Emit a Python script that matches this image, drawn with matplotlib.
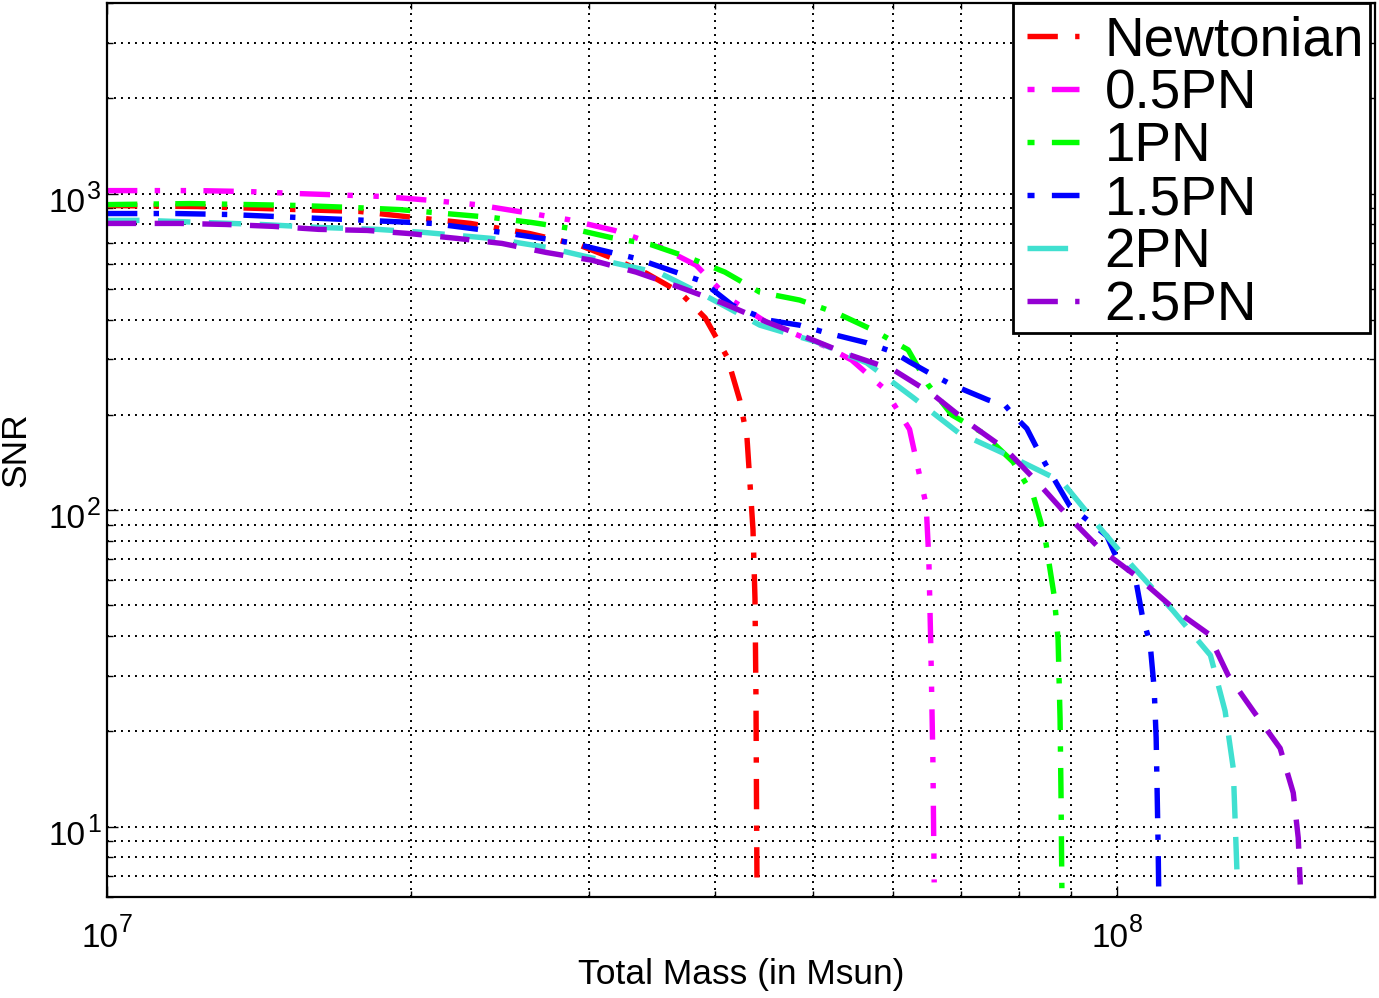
import numpy as np
import matplotlib
matplotlib.use('Agg')
import matplotlib.pyplot as plt
import matplotlib.transforms as mtransforms
from matplotlib.lines import Line2D
from matplotlib.patches import Rectangle
from matplotlib.ticker import LogLocator, NullFormatter

plt.rcParams['font.family'] = ['Liberation Sans', 'DejaVu Sans']

# Total mass in units of 1e7 Msun, SNR
m_newt = [1.00, 1.23, 1.78, 1.97, 2.29, 2.62, 2.94, 3.17, 3.42, 3.69, 3.91, 4.11, 4.23, 4.30,
          4.33, 4.36, 4.38, 4.39, 4.395, 4.40]
s_newt = [917, 910, 878, 847, 805, 748, 686, 624, 560, 488, 405, 305, 223, 171,
          122, 87, 52.5, 25.4, 12.3, 6.67]

m_05 = [1.00, 1.23, 1.38, 1.55, 1.88, 2.10, 2.32, 2.59, 2.86, 3.18, 3.49, 3.83, 4.12, 4.51,
        5.16, 5.46, 5.88, 6.23, 6.36, 6.47, 6.51, 6.54, 6.57, 6.59]
s_05 = [1022, 1022, 1015, 1000, 979, 951, 923, 872, 828, 765, 691, 594, 468, 390,
        328, 298, 242, 180, 133, 104, 70.1, 36.5, 16.5, 6.67]

m_1 = [1.00, 1.21, 1.39, 1.55, 1.75, 1.95, 2.10, 2.40, 2.63, 2.88, 3.15, 3.45, 3.76, 4.09,
       4.43, 4.85, 5.28, 5.73, 6.21, 6.50, 6.86, 7.35, 7.89, 8.26, 8.48, 8.66, 8.74, 8.78,
       8.80, 8.82]
s_1 = [923, 930, 923, 917, 904, 890, 872, 841, 811, 776, 727, 691, 629, 565,
       488, 461, 419, 371, 321, 249, 200, 176, 142, 111, 82.8, 54.0, 39.3, 22.0,
       12.3, 5.5]

m_15 = [1.00, 1.17, 1.32, 1.54, 1.81, 2.10, 2.46, 2.87, 3.34, 3.88, 4.16, 4.50, 4.85, 5.16,
        5.65, 6.00, 6.23, 6.48, 6.86, 7.45, 7.75, 7.89, 8.14, 8.39, 8.58, 8.98, 9.40, 9.77,
        10.0, 10.42, 10.59, 10.78, 10.88, 10.93, 10.98, 11.00]
s_15 = [865, 865, 859, 841, 823, 805, 754, 701, 624, 529, 444, 399, 384, 363,
        338, 316, 294, 274, 249, 223, 214, 200, 181, 150, 132, 103, 91.7, 82.8,
        70.1, 61.6, 46.4, 37.9, 27.4, 19.1, 8.6, 5.5]

m_2 = [1.00, 1.09, 1.24, 1.42, 1.62, 1.85, 2.06, 2.40, 2.72, 3.09, 3.53, 3.95, 4.43, 5.04,
       5.65, 6.28, 6.96, 7.87, 8.82, 9.58, 10.35, 11.36, 12.37, 12.79, 13.03, 13.15]
s_2 = [823, 823, 811, 799, 782, 771, 754, 722, 677, 616, 560, 468, 384, 340,
       292, 227, 176, 147, 123, 89.1, 66.7, 48.1, 34.8, 23.2, 15.3, 6.77]

m_25 = [1.00, 1.18, 1.31, 1.46, 1.62, 1.81, 1.99, 2.22, 2.46, 2.72, 3.02, 3.34, 3.69, 4.07,
        4.50, 4.94, 5.44, 6.00, 6.57, 7.12, 7.75, 8.33, 8.94, 9.62, 10.47, 11.47, 12.31,
        12.88, 13.64, 14.50, 14.94, 15.11, 15.18]
s_25 = [805, 805, 799, 788, 771, 765, 748, 722, 696, 652, 616, 565, 506, 451,
        393, 350, 309, 278, 232, 189, 156, 123, 95.7, 75.4, 61.6, 47.8, 40.7,
        30.1, 23.2, 17.7, 12.8, 9.23, 6.57]

nhan = ['Newtonian', '0.5PN', '1PN', '1.5PN', '2PN', '2.5PN']
mau = ['#ff0000', '#ff00ff', '#00ff00', '#0000ff', '#40e0d0', '#9400d3']

x_mu = [7, 8]       # so mu cua nhan truc x
y_mu = [1, 2, 3]    # so mu cua nhan truc y

# kieu net cho duong trong do thi
kieu = [(0, (5.6, 3.0, 1.0, 3.0)),
        (0, (5.6, 3.2, 1.0, 3.8, 1.0, 3.2)),
        (0, (5.6, 3.0, 1.0, 3.0)),
        (0, (5.6, 3.0, 1.0, 3.0)),
        (0, (6.0, 3.4)),
        (0, (5.4, 3.4))]
# kieu net trong chu thich
kieu_chu_thich = [(0, (5.6, 3.2, 1.0, 5.0)),
                  (0, (1.3, 3.2, 5.4, 3.0)),
                  (0, (1.3, 3.2, 5.4, 3.0)),
                  (0, (1.3, 3.2, 5.4, 3.0)),
                  (0, (7.5, 4.0)),
                  (0, (5.6, 3.2, 1.0, 5.0))]

du_lieu = [(m_newt, s_newt), (m_05, s_05), (m_1, s_1),
           (m_15, s_15), (m_2, s_2), (m_25, s_25)]

lw = 3.9
fig = plt.figure(figsize=(13.79, 9.98), dpi=100)
ax = fig.add_axes([0.0776, 0.1012, 0.9195, 0.8958])

for (m, s), c, ls in zip(du_lieu, mau, kieu):
    ax.plot(np.array(m) * 1e7, s, color=c, linewidth=lw, linestyle=ls)

ax.set_xscale('log')
ax.set_yscale('log')
ax.set_xlim(1e7, 1.8e8)
ax.set_ylim(6, 4000)

ax.xaxis.set_minor_locator(LogLocator(base=10, subs=np.arange(2, 10)))
ax.yaxis.set_minor_locator(LogLocator(base=10, subs=np.arange(2, 10)))
ax.xaxis.set_minor_formatter(NullFormatter())
ax.yaxis.set_minor_formatter(NullFormatter())

ax.grid(True, which='both', color='black', linestyle=(0, (1, 2.6)), linewidth=1.4)
ax.tick_params(which='both', direction='in', top=True, right=True,
               labelbottom=False, labelleft=False)
ax.tick_params(which='major', length=8, width=1)
ax.tick_params(which='minor', length=4, width=1)
for sp in ax.spines.values():
    sp.set_linewidth(1.6)

# nhan truc kieu MATLAB: "10" va so mu viet rieng
def dich(dx, dy):
    return mtransforms.ScaledTranslation(dx / 100, dy / 100, fig.dpi_scale_trans)

tx = mtransforms.blended_transform_factory(ax.transData, ax.transAxes)
for e in x_mu:
    ax.text(10.0 ** e, 0, '10', transform=tx + dich(11, -50), ha='right',
            va='baseline', fontsize=24, clip_on=False)
    ax.text(10.0 ** e, 0, str(e), transform=tx + dich(12, -35), ha='left',
            va='baseline', fontsize=18, clip_on=False)

ty = mtransforms.blended_transform_factory(ax.transAxes, ax.transData)
for e in y_mu:
    ax.text(0, 10.0 ** e, '10', transform=ty + dich(-22, -18), ha='right',
            va='baseline', fontsize=24, clip_on=False)
    ax.text(0, 10.0 ** e, str(e), transform=ty + dich(-20, -5), ha='left',
            va='baseline', fontsize=18, clip_on=False)

ax.set_xlabel('Total Mass (in Msun)', fontsize=25.5)
ax.set_ylabel('SNR', fontsize=25.5)
ax.xaxis.set_label_coords(0.5, -0.068)
ax.yaxis.set_label_coords(-0.059, 0.5)

# khung chu thich ve rieng
ax.add_patch(Rectangle((0.7145, 0.6309), 0.2816, 0.3691, transform=ax.transAxes,
                       facecolor='white', edgecolor='black', linewidth=2,
                       zorder=4, clip_on=False))

tay_cam = [Line2D([], [], color=c, linewidth=lw, linestyle=ls, label=n)
           for c, ls, n in zip(mau, kieu_chu_thich, nhan)]
leg = ax.legend(handles=tay_cam, loc='upper right', bbox_to_anchor=(1.0008, 1.0),
                borderaxespad=0, fontsize=39.5, handlelength=0.95, handletextpad=0.46,
                labelspacing=0.02, borderpad=0.22, frameon=False)
leg.set_zorder(5)

plt.savefig('out.png', dpi=100)
